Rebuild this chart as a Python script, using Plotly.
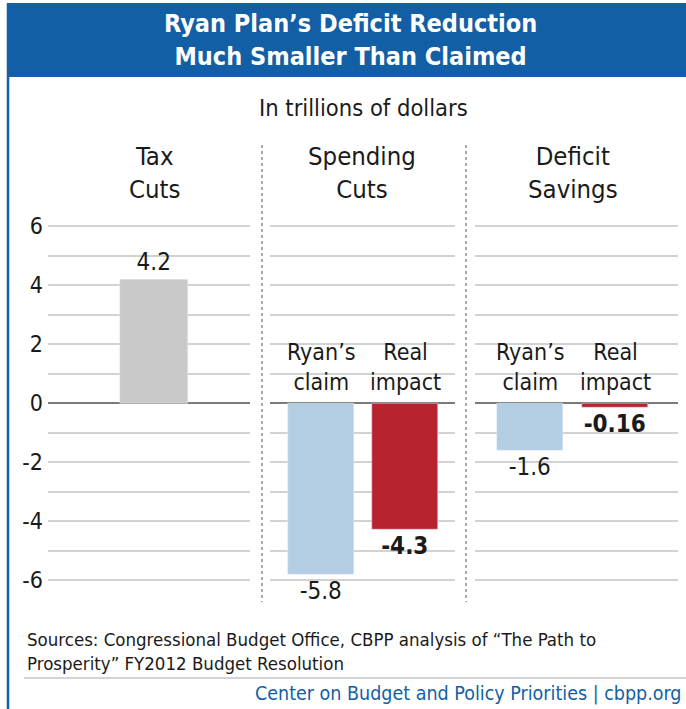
import plotly.graph_objects as go

# ---- data (trillions of dollars) ----
tax_categories = ["Tax Cuts"]
tax_values = [4.2]

spend_categories = ["Ryan's claim", "Real impact"]
spend_values = [-5.8, -4.3]

deficit_categories = ["Ryan's claim", "Real impact"]
deficit_values = [-1.6, -0.16]

value_labels_spend = ["-5.8", "<b>-4.3</b>"]
value_labels_deficit = ["-1.6", "<b>-0.16</b>"]
value_labels_tax = ["4.2"]

bar_labels = ["Ryan’s<br>claim", "Real<br>impact"]
panel_titles = ["Tax<br>Cuts", "Spending<br>Cuts", "Deficit<br>Savings"]

y_ticks = list(range(-6, 7))
y_ticktext = [str(v) if v % 2 == 0 else "" for v in y_ticks]

# ---- styling ----
W, H = 686, 709
FONT = "Liberation Sans Narrow, DejaVu Sans Condensed, Arial Narrow, sans-serif"
BLUE = "#135fa5"
GRAY_BAR = "#c9c9c9"
LIGHT_BLUE = "#b3cde3"
RED = "#b7232e"
GRID = "#d2d2d2"
ZERO = "#7a7a7a"
TEXT = "#1a1a1a"


def px(x):
    return x / W


def py(y):
    return 1 - y / H


fig = go.Figure()

fig.add_trace(go.Bar(
    x=tax_categories, y=tax_values, marker_color=GRAY_BAR, width=0.8,
    text=value_labels_tax, textposition="outside", cliponaxis=False,
    textfont=dict(size=24, color=TEXT, family=FONT),
    xaxis="x", yaxis="y", showlegend=False, hoverinfo="skip",
))
fig.add_trace(go.Bar(
    x=spend_categories, y=spend_values, marker_color=[LIGHT_BLUE, RED],
    width=0.78, text=value_labels_spend, textposition="outside",
    cliponaxis=False, textfont=dict(size=24, color=TEXT, family=FONT),
    xaxis="x2", yaxis="y2", showlegend=False, hoverinfo="skip",
))
fig.add_trace(go.Bar(
    x=deficit_categories, y=deficit_values, marker_color=[LIGHT_BLUE, RED],
    width=0.78, text=value_labels_deficit, textposition="outside",
    cliponaxis=False, textfont=dict(size=24, color=TEXT, family=FONT),
    xaxis="x3", yaxis="y3", showlegend=False, hoverinfo="skip",
))

y_range = [-7, 7]
y_domain = [py(403 + 7 * 29.5), py(403 - 7 * 29.5)]

common_y = dict(
    range=y_range, domain=y_domain, tickvals=y_ticks, showgrid=True,
    gridcolor=GRID, gridwidth=1.5, zeroline=True, zerolinecolor=ZERO,
    zerolinewidth=2, showline=False, fixedrange=True, automargin=False,
)
common_x = dict(
    type="category", showgrid=False, zeroline=False, showline=False,
    showticklabels=False, ticks="", fixedrange=True, automargin=False,
)

fig.update_layout(
    width=W, height=H,
    margin=dict(l=0, r=0, t=0, b=0),
    paper_bgcolor="white", plot_bgcolor="white",
    font=dict(family=FONT, color=TEXT),
    bargap=0,
    xaxis=dict(common_x, domain=[px(48), px(250)], range=[-1.247, 1.129], anchor="y"),
    xaxis2=dict(common_x, domain=[px(270), px(455)], range=[-0.607, 1.595], anchor="y2"),
    xaxis3=dict(common_x, domain=[px(475), px(678)], range=[-0.647, 1.741], anchor="y3"),
    yaxis=dict(common_y, anchor="x", ticktext=y_ticktext,
               tickfont=dict(size=23, color=TEXT, family=FONT), ticklabelstandoff=4),
    yaxis2=dict(common_y, anchor="x2", showticklabels=False),
    yaxis3=dict(common_y, anchor="x3", showticklabels=False),
)

shapes = []
# header band and frame
shapes.append(dict(type="rect", xref="paper", yref="paper",
                   x0=px(7), x1=1, y0=py(77), y1=py(3),
                   fillcolor=BLUE, line=dict(width=0), layer="below"))
shapes.append(dict(type="line", xref="paper", yref="paper",
                   x0=px(8), x1=px(8), y0=py(3), y1=0,
                   line=dict(color=BLUE, width=2.5)))
# dotted panel separators
for xs in (262, 466):
    shapes.append(dict(type="line", xref="paper", yref="paper",
                       x0=px(xs), x1=px(xs), y0=py(145), y1=py(602),
                       line=dict(color="#a8a8a8", width=2, dash="dot")))
# footer rule
shapes.append(dict(type="line", xref="paper", yref="paper",
                   x0=px(24), x1=1, y0=py(678), y1=py(678),
                   line=dict(color="#c4c4c4", width=1.5)))
fig.update_layout(shapes=shapes)

ann = []
ann.append(dict(text="<b>Ryan Plan’s Deficit Reduction<br>Much Smaller Than Claimed</b>",
                xref="paper", yref="paper", x=px(350), y=py(40),
                xanchor="center", yanchor="middle", showarrow=False,
                font=dict(size=25, color="white", family=FONT)))
ann.append(dict(text="In trillions of dollars", xref="paper", yref="paper",
                x=px(363), y=py(108), xanchor="center", yanchor="middle",
                showarrow=False, font=dict(size=23.5, color=TEXT, family=FONT)))
for title, cx in zip(panel_titles, (155, 362, 573)):
    ann.append(dict(text=title, xref="paper", yref="paper", x=px(cx), y=py(172),
                    xanchor="center", yanchor="middle", showarrow=False,
                    font=dict(size=25.5, color=TEXT, family=FONT)))
# bar captions above the zero line
for xr, yr, cats in (("x2", "y2", spend_categories), ("x3", "y3", deficit_categories)):
    for cat, lab in zip(cats, bar_labels):
        ann.append(dict(text=lab, xref=xr, yref=yr, x=cat, y=0,
                        xanchor="center", yanchor="bottom", yshift=6,
                        showarrow=False,
                        font=dict(size=23, color=TEXT, family=FONT)))
ann.append(dict(text="Sources: Congressional Budget Office, CBPP analysis of “The Path to<br>"
                     "Prosperity” FY2012 Budget Resolution",
                xref="paper", yref="paper", x=px(25), y=py(651),
                xanchor="left", yanchor="middle", align="left", showarrow=False,
                font=dict(size=18.5, color=TEXT, family=FONT)))
ann.append(dict(text="Center on Budget and Policy Priorities | cbpp.org",
                xref="paper", yref="paper", x=px(684), y=py(693),
                xanchor="right", yanchor="middle", showarrow=False,
                font=dict(size=19.5, color=BLUE, family=FONT)))
fig.update_layout(annotations=ann)

fig.write_html("out.html")
